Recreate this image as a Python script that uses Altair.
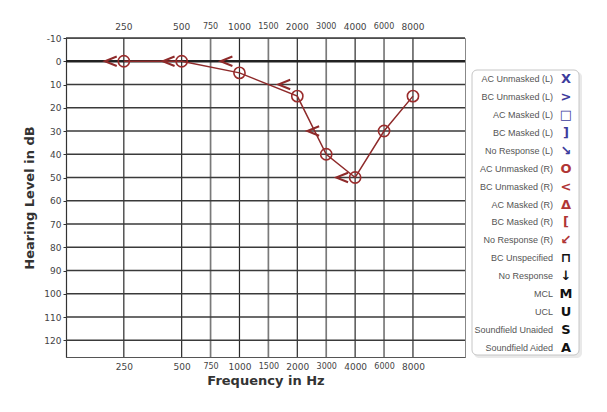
import altair as alt
import pandas as pd

# ---------------- data ----------------
freq_ticks = [250, 500, 750, 1000, 1500, 2000, 3000, 4000, 6000, 8000]
db_ticks = [-10, 0, 10, 20, 30, 40, 50, 60, 70, 80, 90, 100, 110, 120]

ac_freq = [250, 500, 1000, 2000, 3000, 4000, 6000, 8000]
ac_db = [0, 0, 5, 15, 40, 50, 30, 15]

bc_freq = [250, 500, 1000, 2000, 3000, 4000]
bc_db = [0, 0, 0, 10, 30, 50]

legend_labels = [
    "AC Unmasked (L)", "BC Unmasked (L)", "AC Masked (L)", "BC Masked (L)",
    "No Response (L)", "AC Unmasked (R)", "BC Unmasked (R)", "AC Masked (R)",
    "BC Masked (R)", "No Response (R)", "BC Unspecified", "No Response",
    "MCL", "UCL", "Soundfield Unaided", "Soundfield Aided",
]
legend_symbols = ["X", ">", "□", "]", "↘", "O", "<", "Δ", "[", "↙", "⊓", "↓",
                  "M", "U", "S", "A"]
legend_ears = ["L"] * 5 + ["R"] * 5 + ["N"] * 6

# audiogram position: octaves at even steps, half-octaves midway
POS = ("2*floor(log(datum.f/250)/log(2)+0.001)"
       " + ((datum.f/(250*pow(2,floor(log(datum.f/250)/log(2)+0.001)))) > 1.2 ? 1 : 0)")
LABEL = ("format(250*pow(2,floor(datum.value/2))*(datum.value % 2 == 1 ? 1.5 : 1),'d')")

xscale = alt.Scale(domain=[-2, 11.8], nice=False, zero=False)
yscale = alt.Scale(domain=[-10, 127.2], nice=False, zero=False, reverse=True)

RED = "#8e2a2a"
freq_df = pd.DataFrame({"f": freq_ticks})
db_df = pd.DataFrame({"db": db_ticks})
ac_df = pd.DataFrame({"f": ac_freq, "db": ac_db})
bc_df = pd.DataFrame({"f": bc_freq, "db": bc_db})
leg_df = pd.DataFrame({"label": legend_labels, "symbol": legend_symbols,
                       "ear": legend_ears})

vgrid = alt.Chart(freq_df).transform_calculate(pos=POS).mark_rule().encode(
    x=alt.X("pos:Q", scale=xscale, axis=alt.Axis(
        values=[0, 2, 3, 4, 5, 6, 7, 8, 9, 10], labelExpr=LABEL, grid=False,
        ticks=False, domainColor="#555", domainWidth=1.2,
        labelFont="DejaVu Sans",
        labelFontSize={"condition": {"test": "datum.value % 2 == 1", "value": 8}, "value": 9},
        labelColor="#444", labelPadding=5, labelFlush=False, labelOverlap=False,
        title="Frequency in Hz", titleFont="DejaVu Sans", titleFontSize=13,
        titleFontWeight="bold", titleColor="#333", titlePadding=3)),
    color=alt.condition("datum.pos % 2 == 1", alt.value("#7a7a7a"), alt.value("#2a2a2a")),
    strokeWidth=alt.condition("datum.pos % 2 == 1", alt.value(1.7), alt.value(1.2)),
)

hgrid = alt.Chart(db_df).mark_rule(color="#3a3a3a", strokeWidth=1.4).encode(
    y=alt.Y("db:Q", scale=yscale, axis=alt.Axis(
        values=db_ticks, labelExpr="datum.value + ''", grid=False, tickSize=3,
        tickColor="#333", domainColor="#333", domainWidth=1.2,
        labelFont="DejaVu Sans", labelFontSize=9, labelColor="#444",
        labelPadding=2, labelFlush=False, labelOverlap=False,
        title="Hearing Level in dB", titleFont="DejaVu Sans", titleFontSize=13,
        titleFontWeight="bold", titleColor="#333", titlePadding=7)),
)

zero_line = alt.Chart(pd.DataFrame({"db": [0]})).mark_rule(
    color="#222", strokeWidth=2.6).encode(
    y=alt.Y("db:Q", scale=yscale, axis=None))

ac_line = alt.Chart(ac_df).transform_calculate(pos=POS).mark_line(
    color=RED, strokeWidth=1.5).encode(
    x=alt.X("pos:Q", scale=xscale, axis=None),
    y=alt.Y("db:Q", scale=yscale, axis=None),
    order="pos:Q")

ac_pts = alt.Chart(ac_df).transform_calculate(pos=POS).mark_point(
    shape="circle", size=125, filled=False, color="#9a2c2c", strokeWidth=1.6,
    opacity=1).encode(
    x=alt.X("pos:Q", scale=xscale, axis=None),
    y=alt.Y("db:Q", scale=yscale, axis=None))

bc_pts = alt.Chart(bc_df).transform_calculate(pos=POS).mark_point(
    shape="M 1 -0.8 L -1 0 L 1 0.8", size=140, filled=False, color=RED,
    strokeWidth=2, opacity=1, xOffset=-13).encode(
    x=alt.X("pos:Q", scale=xscale, axis=None),
    y=alt.Y("db:Q", scale=yscale, axis=None))

top_labels = alt.Chart(freq_df).transform_calculate(pos=POS).mark_text(
    baseline="middle", font="DejaVu Sans", color="#444").encode(
    x=alt.X("pos:Q", scale=xscale, axis=None),
    y=alt.value(-11),
    text=alt.Text("f:Q", format="d"),
    size=alt.condition("datum.pos % 2 == 1", alt.value(8), alt.value(9)))

one = pd.DataFrame({"a": [0]})
shadow = alt.Chart(one).mark_rect(fill="#e9e9e9", cornerRadius=5).encode(
    x=alt.value(408), x2=alt.value(516), y=alt.value(34), y2=alt.value(320))
box = alt.Chart(one).mark_rect(fill="white", stroke="#c6c6c6", strokeWidth=1,
                               cornerRadius=5).encode(
    x=alt.value(406), x2=alt.value(513), y=alt.value(32), y2=alt.value(317))

leg_y = alt.Y("label:N", scale=alt.Scale(type="point", domain=legend_labels,
                                         range=[41, 310], padding=0), axis=None)
leg_text = alt.Chart(leg_df).mark_text(
    align="right", baseline="middle", font="Liberation Sans", fontSize=9,
    color="#555").encode(x=alt.value(487), y=leg_y, text="label:N")
leg_sym = alt.Chart(leg_df).mark_text(
    align="center", baseline="middle", font="DejaVu Sans", fontWeight="bold",
    fontSize=13).encode(
    x=alt.value(500), y=leg_y, text="symbol:N",
    color=alt.Color("ear:N", scale=alt.Scale(domain=["L", "R", "N"],
                    range=["#3c3c9c", "#b03535", "#111111"]), legend=None))

chart = alt.layer(
    shadow, box, vgrid, hgrid, zero_line, ac_line, ac_pts, bc_pts, top_labels,
    leg_text, leg_sym,
).resolve_scale(x="independent", y="independent").properties(
    width=399, height=319,
    padding={"left": 66, "top": 38, "right": 142, "bottom": 55},
    autosize=alt.AutoSizeParams(type="none"),
    background="white",
).configure_view(stroke="#888", strokeWidth=1)

chart.save("out.html", embed_options={"renderer": "svg", "actions": False})
